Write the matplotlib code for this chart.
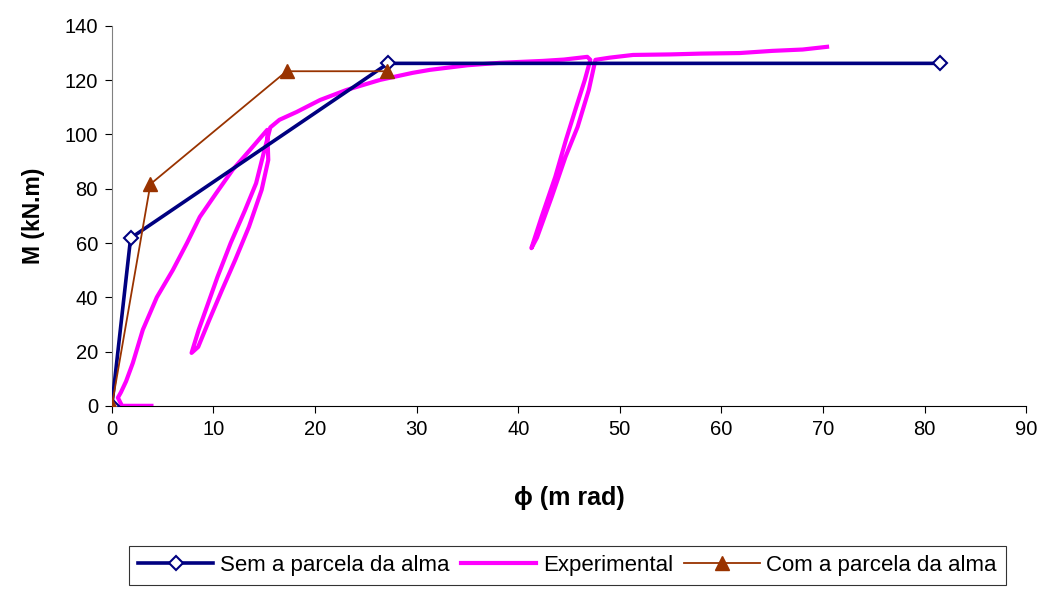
import matplotlib
matplotlib.use('Agg')
import matplotlib.pyplot as plt
import numpy as np

plt.rcParams['font.family'] = ['Liberation Sans', 'DejaVu Sans']

# Sem a parcela da alma
sem_x = [0, 1.85, 27.2, 81.5]
sem_y = [0, 61.8, 126.2, 126.2]

# Com a parcela da alma
com_x = [0, 3.8, 17.2, 27.1]
com_y = [0, 81.7, 123.3, 123.3]

# Experimental
exp_x = [3.9, 2.0, 1.0, 0.6, 0.9, 1.4, 2.07, 3.05, 4.43, 6.0, 7.4, 8.66, 10.3, 11.9, 13.6, 15.3,
         15.4, 14.75, 13.5, 12.15, 10.85, 9.6, 8.5, 7.85, 8.55, 9.5, 10.4, 11.7, 13.1, 14.2, 14.85, 15.6,
         16.5, 18.2, 20.5, 23.1, 26.4, 29.6, 31.3, 35.0, 38.2, 42.4, 44.5, 46.8, 47.1,
         46.55, 45.7, 44.7, 43.65, 42.3, 41.3, 41.85, 43.3, 44.65, 45.85, 46.95, 47.6,
         49.0, 51.3, 55.0, 58.0, 61.8, 65.0, 68.0, 70.4]
exp_y = [0, 0, 0, 3.0, 5.0, 9.0, 15.8, 28.0, 40.0, 50.0, 60.0, 69.6, 78.5, 87.0, 94.3, 101.7,
         90.6, 79.6, 66.0, 53.8, 42.7, 31.7, 21.7, 19.5, 28.0, 38.0, 47.5, 60.0, 72.0, 82.0, 91.7, 102.6,
         105.4, 108.3, 112.7, 116.4, 120.1, 122.7, 123.8, 125.5, 126.4, 127.1, 127.6, 128.6, 127.5,
         120.0, 110.0, 98.0, 84.4, 69.6, 58.1, 62.0, 77.0, 91.7, 102.8, 116.4, 127.5,
         128.3, 129.3, 129.5, 129.8, 130.0, 130.8, 131.3, 132.3]

x_ticks = np.arange(0, 91, 10)
y_ticks = np.arange(0, 141, 20)

fig = plt.figure(figsize=(10.45, 5.89), dpi=100)
ax = fig.add_axes([0.107, 0.311, 0.875, 0.645])

ax.plot(sem_x, sem_y, color='#000080', lw=2.6, marker='D', ms=7.5,
        mfc='white', mec='#000080', mew=1.5, label='Sem a parcela da alma', zorder=3)
ax.plot(exp_x, exp_y, color='#FF00FF', lw=3.0, label='Experimental', zorder=2)
ax.plot(com_x, com_y, color='#993300', lw=1.3, marker='^', ms=10,
        mfc='#993300', mec='#993300', label='Com a parcela da alma', zorder=4)

ax.set_xlim(0, 90)
ax.set_ylim(0, 140)
ax.set_xticks(x_ticks)
ax.set_yticks(y_ticks)
ax.tick_params(direction='out', length=5, labelsize=14.5, pad=5)
for s in ['top', 'right']:
    ax.spines[s].set_visible(False)
ax.spines['left'].set_color('#808080')
ax.spines['bottom'].set_color('black')

ax.set_xlabel('ϕ (m rad)', fontsize=18, fontweight='bold', labelpad=34)
ax.set_ylabel('M (kN.m)', fontsize=16.5, fontweight='bold', labelpad=14)

leg = fig.legend(loc='lower center', bbox_to_anchor=(0.543, 0.0), ncol=3, fontsize=16,
                 frameon=True, fancybox=False, edgecolor='black', handlelength=3.4,
                 columnspacing=0.5, handletextpad=0.3, borderpad=0.4, borderaxespad=0.2)
leg.get_frame().set_linewidth(0.8)

fig.savefig('out.png', dpi=100)
